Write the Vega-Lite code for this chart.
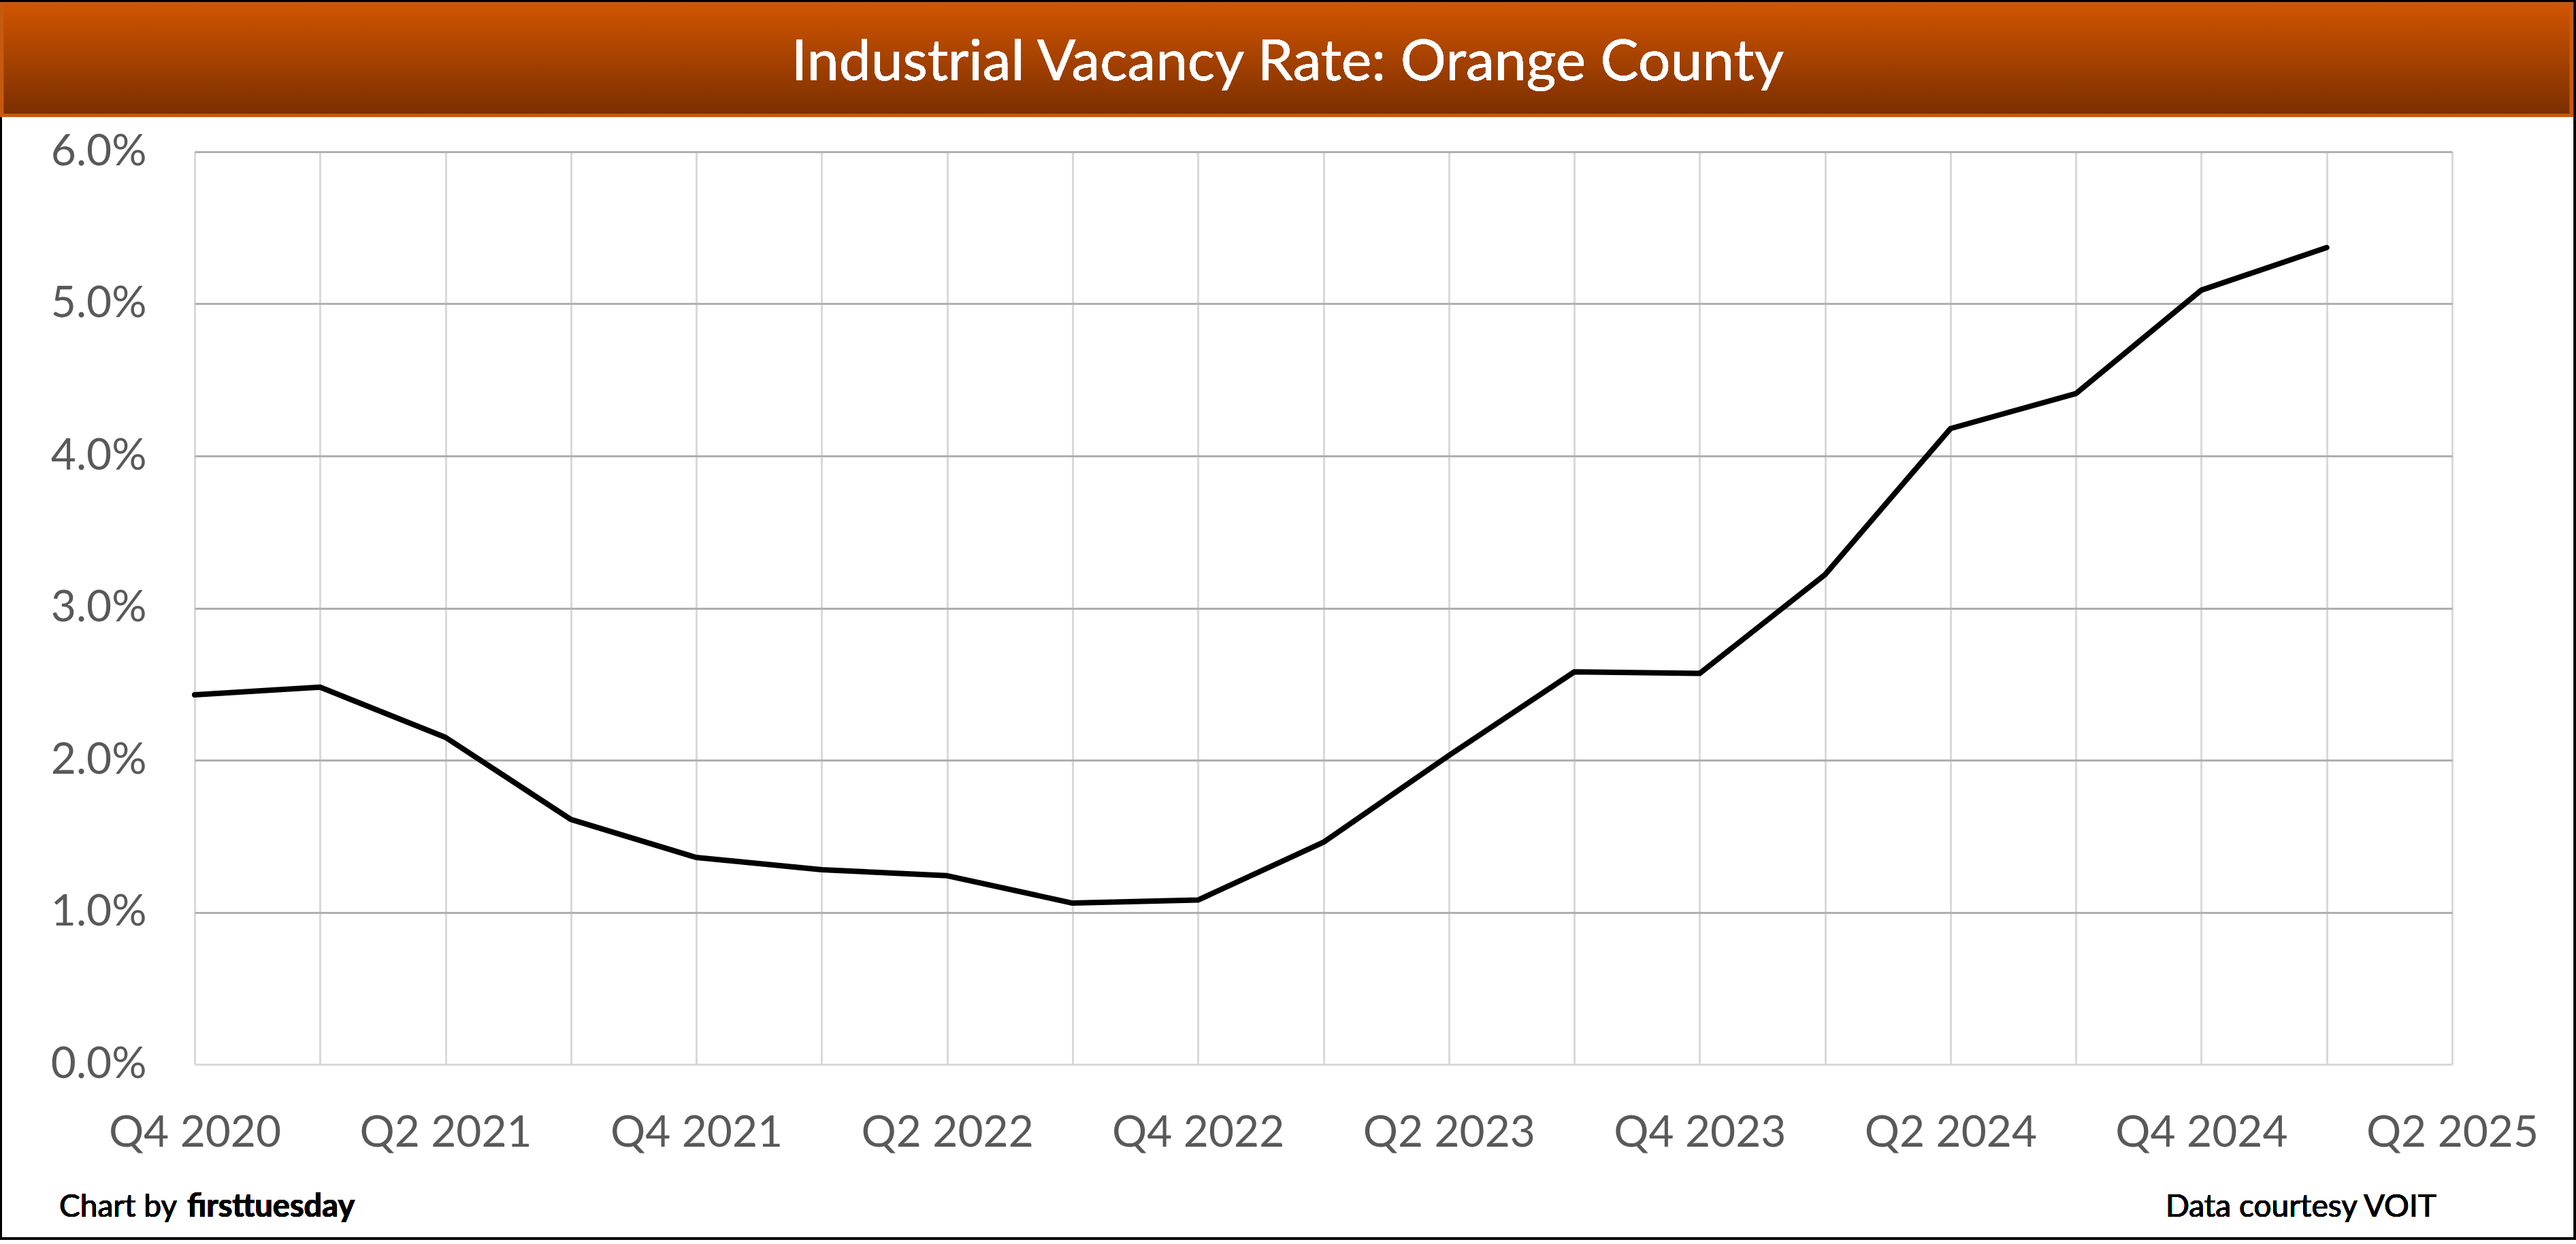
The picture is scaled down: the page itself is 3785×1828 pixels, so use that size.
{
  "$schema": "https://vega.github.io/schema/vega-lite/v6.json",
  "width": 3317,
  "height": 1341,
  "autosize": {"type": "none"},
  "padding": {"left": 286, "right": 182, "top": 223, "bottom": 264},
  "background": "white",
  "config": {"view": {"stroke": null}},
  "data": {"values": [
    {"q": 0, "quarter": "Q4 2020", "rate": 0.0243},
    {"q": 1, "quarter": "Q1 2021", "rate": 0.0248},
    {"q": 2, "quarter": "Q2 2021", "rate": 0.0215},
    {"q": 3, "quarter": "Q3 2021", "rate": 0.0161},
    {"q": 4, "quarter": "Q4 2021", "rate": 0.0136},
    {"q": 5, "quarter": "Q1 2022", "rate": 0.0128},
    {"q": 6, "quarter": "Q2 2022", "rate": 0.0124},
    {"q": 7, "quarter": "Q3 2022", "rate": 0.0106},
    {"q": 8, "quarter": "Q4 2022", "rate": 0.0108},
    {"q": 9, "quarter": "Q1 2023", "rate": 0.0146},
    {"q": 10, "quarter": "Q2 2023", "rate": 0.0203},
    {"q": 11, "quarter": "Q3 2023", "rate": 0.0258},
    {"q": 12, "quarter": "Q4 2023", "rate": 0.0257},
    {"q": 13, "quarter": "Q1 2024", "rate": 0.0322},
    {"q": 14, "quarter": "Q2 2024", "rate": 0.0418},
    {"q": 15, "quarter": "Q3 2024", "rate": 0.0441},
    {"q": 16, "quarter": "Q4 2024", "rate": 0.0509},
    {"q": 17, "quarter": "Q1 2025", "rate": 0.0537}
  ]},
  "layer": [
    {
      "mark": {"type": "rect", "fill": null, "stroke": "black", "strokeWidth": 3, "clip": false},
      "encoding": {
        "x": {"datum": -1.544, "type": "quantitative", "scale": {"domain": [0, 18], "nice": false, "zero": false}},
        "x2": {"datum": 18.979},
        "y": {"datum": 0.06991, "type": "quantitative", "scale": {"domain": [0, 0.06], "nice": false}},
        "y2": {"datum": -0.01145}
      }
    },
    {
      "mark": {
        "type": "rect",
        "clip": false,
        "stroke": "#C55A11",
        "strokeWidth": 5,
        "fill": {
          "gradient": "linear", "x1": 0, "y1": 0, "x2": 0, "y2": 1,
          "stops": [{"offset": 0, "color": "#D05500"}, {"offset": 1, "color": "#7A2E00"}]
        }
      },
      "encoding": {
        "x": {"datum": -1.536, "type": "quantitative"},
        "x2": {"datum": 18.949},
        "y": {"datum": 0.06973, "type": "quantitative"},
        "y2": {"datum": 0.06239}
      }
    },
    {
      "mark": {"type": "text", "text": "Industrial Vacancy Rate: Orange County", "font": "Lato", "fontSize": 84, "color": "white", "align": "center", "baseline": "alphabetic", "clip": false},
      "encoding": {
        "x": {"datum": 8.715, "type": "quantitative"},
        "y": {"datum": 0.0647, "type": "quantitative"}
      }
    },
    {
      "mark": {"type": "text", "text": "Chart by", "font": "Lato", "fontSize": 46, "color": "black", "align": "left", "baseline": "alphabetic", "clip": false},
      "encoding": {
        "x": {"datum": -1.08, "type": "quantitative"},
        "y": {"datum": -0.01, "type": "quantitative"}
      }
    },
    {
      "mark": {"type": "text", "text": "firsttuesday", "font": "Lato", "fontSize": 47, "fontWeight": "bold", "color": "black", "align": "left", "baseline": "alphabetic", "clip": false},
      "encoding": {
        "x": {"datum": -0.06, "type": "quantitative"},
        "y": {"datum": -0.01, "type": "quantitative"}
      }
    },
    {
      "mark": {"type": "text", "text": "Data courtesy VOIT", "font": "Lato", "fontSize": 46, "color": "black", "align": "right", "baseline": "alphabetic", "clip": false},
      "encoding": {
        "x": {"datum": 17.875, "type": "quantitative"},
        "y": {"datum": -0.01, "type": "quantitative"}
      }
    },
    {
      "mark": {"type": "line", "color": "black", "strokeWidth": 8, "strokeJoin": "round", "strokeCap": "round"},
      "encoding": {
        "x": {
          "field": "q", "type": "quantitative",
          "axis": {
            "title": null,
            "values": [0, 1, 2, 3, 4, 5, 6, 7, 8, 9, 10, 11, 12, 13, 14, 15, 16, 17, 18],
            "labelExpr": "datum.value % 2 ? '' : ['Q4 2020','Q1 2021','Q2 2021','Q3 2021','Q4 2021','Q1 2022','Q2 2022','Q3 2022','Q4 2022','Q1 2023','Q2 2023','Q3 2023','Q4 2023','Q1 2024','Q2 2024','Q3 2024','Q4 2024','Q1 2025','Q2 2025'][datum.value]",
            "grid": true, "gridColor": "#d9d9d9", "gridWidth": 3,
            "domain": false, "ticks": false, "tickSize": 0,
            "labelFont": "Lato", "labelFontSize": 64, "labelColor": "#595959",
            "labelPadding": 69, "labelFlush": false, "labelOverlap": false, "labelLimit": 0
          }
        },
        "y": {
          "field": "rate", "type": "quantitative",
          "axis": {
            "title": null,
            "values": [0, 0.01, 0.02, 0.03, 0.04, 0.05, 0.06],
            "format": ".1%",
            "grid": true,
            "gridColor": {"condition": {"test": "datum.value === 0", "value": "#d9d9d9"}, "value": "#b0b0b0"},
            "gridWidth": 3,
            "domain": false, "ticks": false, "tickSize": 0,
            "labelFont": "Lato", "labelFontSize": 64, "labelColor": "#595959",
            "labelPadding": 71, "labelFlush": false, "labelOverlap": false, "labelLimit": 0
          }
        }
      }
    }
  ]
}
